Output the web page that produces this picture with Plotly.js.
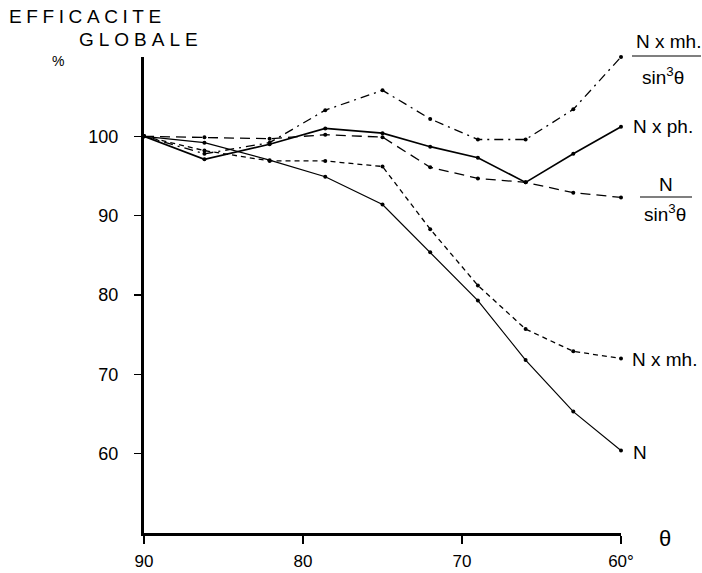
<!DOCTYPE html>
<html>
<head>
<meta charset="utf-8">
<script src="https://cdn.plot.ly/plotly-3.0.1.min.js"></script>
<style>html,body{margin:0;padding:0;background:#fff;}#chart{width:702px;height:573px;}</style>
</head>
<body>
<div id="chart"></div>
<script>
// angle theta (degrees)
const theta = [90, 86.2, 82.1, 78.6, 75, 72, 69, 66, 63, 60];
// global efficiency (%)
const seriesN        = [100, 99.2, 97.0, 94.9, 91.4, 85.4, 79.3, 71.8, 65.3, 60.4];
const seriesNxMh     = [100, 98.2, 96.9, 96.9, 96.2, 88.3, 81.2, 75.7, 72.9, 72.0];
const seriesNxPh     = [100, 97.1, 99.0, 101.0, 100.4, 98.7, 97.3, 94.2, 97.8, 101.2];
const seriesNsin3    = [100, 99.9, 99.7, 100.2, 99.9, 96.1, 94.7, 94.2, 92.9, 92.3];
const seriesNxMhSin3 = [100, 97.8, 99.2, 103.3, 105.8, 102.2, 99.6, 99.6, 103.4, 110.0];

const yTicks = [60, 70, 80, 90, 100];
const xTicks = [90, 80, 70, 60];
const xTickText = ['90', '80', '70', '60°'];

const FONT = 'Liberation Sans, Arial, sans-serif';
const L = 144, R = 621, T = 57, B = 533;
const px = v => (v - L) / (R - L);
const py = v => (B - v) / (B - T);

function tr(y, dash, width) {
  return {
    x: theta, y: y, type: 'scatter', mode: 'lines+markers',
    line: {color: '#000', width: width || 1.2, dash: dash},
    marker: {color: '#000', size: 4},
    cliponaxis: false, showlegend: false, hoverinfo: 'skip'
  };
}

const data = [
  tr(seriesN, 'solid', 1.2),
  tr(seriesNxMh, '5px,4px', 1.3),
  tr(seriesNxPh, 'solid', 1.6),
  tr(seriesNsin3, '10px,6px', 1.3),
  tr(seriesNxMhSin3, '9px,5px,2px,5px', 1.3)
];

function ann(text, x, y, size, xanchor) {
  return {xref: 'paper', yref: 'paper', x: px(x), y: py(y), text: text,
    showarrow: false, xanchor: xanchor || 'center', yanchor: 'middle',
    font: {family: FONT, size: size, color: '#000'}};
}

const layout = {
  width: 702, height: 573,
  margin: {l: L, r: 702 - R, t: T, b: 573 - B, pad: 0},
  paper_bgcolor: '#fff', plot_bgcolor: '#fff',
  font: {family: FONT, color: '#000'},
  xaxis: {
    range: [90, 60], tickvals: xTicks, ticktext: xTickText,
    showgrid: false, zeroline: false, showline: true, linecolor: '#000', linewidth: 3,
    ticks: 'outside', ticklen: 8, tickwidth: 1.2, tickcolor: '#000',
    tickfont: {family: FONT, size: 17, color: '#000'}, ticklabelstandoff: 3
  },
  yaxis: {
    range: [50, 110], tickvals: yTicks,
    showgrid: false, zeroline: false, showline: true, linecolor: '#000', linewidth: 3,
    ticks: 'outside', ticklen: 7, tickwidth: 1.2, tickcolor: '#000',
    tickfont: {family: FONT, size: 18, color: '#000'}, ticklabelstandoff: 12
  },
  annotations: [
    ann('<span style="letter-spacing:4.6px">EFFICACITE</span>', 7, 16, 19, 'left'),
    ann('<span style="letter-spacing:5px">GLOBALE</span>', 77, 40, 19, 'left'),
    ann('%', 58, 61, 14, 'center'),
    ann('θ', 665, 538, 22, 'center'),
    ann('N x mh.', 668, 42, 19, 'center'),
    ann('sin<sup>3</sup>θ', 663, 76, 19, 'center'),
    ann('N x ph.', 631, 126, 19, 'left'),
    ann('N', 666, 184, 19, 'center'),
    ann('sin<sup>3</sup>θ', 665, 213, 19, 'center'),
    ann('N x mh.', 630, 359, 19, 'left'),
    ann('N', 631, 453, 19, 'left')
  ],
  shapes: [
    {type: 'line', xref: 'paper', yref: 'paper', x0: px(632), x1: px(701), y0: py(56), y1: py(56), line: {color: '#000', width: 1.2}},
    {type: 'line', xref: 'paper', yref: 'paper', x0: px(640), x1: px(692), y0: py(197), y1: py(197), line: {color: '#000', width: 1.2}}
  ]
};

Plotly.newPlot('chart', data, layout, {displayModeBar: false, staticPlot: true});
</script>
</body>
</html>
